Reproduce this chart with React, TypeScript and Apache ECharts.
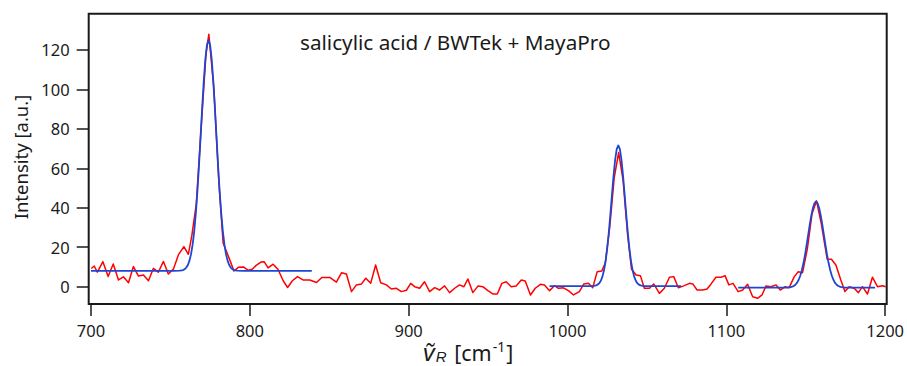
import React, { useEffect, useRef } from "react";
import * as echarts from "echarts";

// measured spectrum (red) as [wavenumber, intensity]
const measured: [number, number][] = [
  [700.2, 9.2], [702, 10.5], [704, 7.4], [707.5, 12.7], [710.8, 5.2], [714, 11.5], [717.3, 3.4], [720.4, 5.0],
  [723.6, 2.0], [726.7, 10.2], [729.9, 5.4], [733, 5.9], [736.2, 3.0], [739.3, 9.3], [742.4, 7.3], [745.6, 12.8],
  [748.7, 6.4], [751.9, 8.9], [755, 16.1], [758.5, 20.3], [761.3, 16.4], [763.5, 26], [766.3, 42], [769.3, 80],
  [772.4, 118], [774.2, 128], [777.4, 100], [780.5, 53], [783.2, 22], [785.7, 17], [787.8, 12.7], [790, 8.0],
  [793, 9.9], [796, 10], [799, 8.3], [801.5, 8.8], [804, 10.8], [807, 12.5], [809, 12.7], [811.5, 9.5],
  [814.7, 11.4], [817.8, 8.7], [821, 3], [823.8, -0.4], [826.8, 3], [830, 5.1], [833.5, 3.4], [837.7, 3.4],
  [842, 2.1], [845.3, 4.7], [850.3, 4.7], [854.5, 2.3], [857.8, 7.1], [860.8, 6.4], [864, -2.5], [867.1, 0.9],
  [870.3, 1.4], [873, 4.3], [876.1, 1.7], [879.2, 11], [882.4, 2.0], [886, 0.9], [889.1, -1.2], [892.3, -0.8],
  [895.4, -2.5], [898.6, -1.8], [901.3, 1.7], [903.8, 0], [906.9, -0.8], [910, 2.5], [913.2, -2.5], [916.4, -0.5],
  [919.5, -1.7], [922.6, 0.4], [925.8, -3.0], [929, -0.8], [932, 0.9], [934.8, 0], [937.3, 3.9], [940.4, -3.0],
  [943.6, 0.3], [946.7, 0], [949.9, -2.0], [953, -3.7], [955.8, -3.7], [958.7, 1.7], [961.4, 2.5], [964.6, 0],
  [967.7, 0.3], [970.9, 3.4], [973.4, 2.9], [976.7, -4.2], [979.7, -0.8], [983, 1.2], [985.5, 0.9], [988.7, -2.0],
  [991.8, 0.5], [994.3, -0.8], [997.5, -0.6], [1000.8, -2.1], [1003.8, -4.2], [1007.5, -2.5], [1010.3, 1.4],
  [1013.2, 1.7], [1015.9, -0.5], [1018.7, 7.6], [1021.6, 8], [1023.8, 12], [1026.6, 30], [1029.4, 55],
  [1032.2, 68], [1035, 54], [1037.9, 26], [1040.3, 9], [1043.2, 5.9], [1045.9, 5.6], [1048.4, -0.8],
  [1051.6, -0.8], [1054.3, 1.4], [1057.9, -3.4], [1061, -0.8], [1064.2, 4.8], [1066.9, 5.1], [1069.8, -0.5],
  [1073.2, 0.4], [1076.8, 1.7], [1078.9, 1.4], [1081.6, -1.7], [1085.1, -1.7], [1087.9, -1.2], [1090.4, 1.4],
  [1093.5, 4.8], [1096.7, 4.8], [1099.2, 5.6], [1101.6, 0.9], [1104.2, 1.7], [1107.5, -2.5], [1110.3, -1.7],
  [1113.4, 1.2], [1116.6, -5.1], [1119.7, -5.9], [1122.5, -4.2], [1125, 0.4], [1128.1, 0], [1131.3, 0.9],
  [1134, -1.7], [1137, 0], [1139.6, -0.5], [1142.8, 5.1], [1145.3, 7.6], [1148, 7.1], [1151, 19], [1154, 37],
  [1156.8, 43.5], [1159.8, 32], [1163.5, 14], [1166.2, 13.9], [1169, 11], [1172.1, 3.4], [1174.7, -2.5],
  [1177.4, 0], [1180.5, -0.8], [1183.2, -3.0], [1185.7, 0], [1188.9, -3.7], [1192, 4.8], [1195.2, 0],
  [1198.3, 0.5], [1200.4, 0],
];

// fitted peaks (blue)
const fit1: [number, number][] = [
  [700, 8], [752, 8], [756, 8.1], [758, 8.45], [759, 8.9], [760, 9.7], [761, 11.0], [762, 13.2], [763, 16.5],
  [764, 21.4], [765, 28.2], [766, 37.2], [767, 48.4], [768, 61.6], [769, 76], [770, 90.7], [771, 104.3],
  [772, 115.3], [773, 122.5], [774, 125], [775, 122.5], [776, 115.3], [777, 104.3], [778, 90.7], [779, 76],
  [780, 61.6], [781, 48.4], [782, 37.2], [783, 28.2], [784, 21.4], [785, 16.5], [786, 13.2], [787, 11.0],
  [788, 9.7], [789, 8.9], [790, 8.45], [792, 8.1], [796, 8], [839, 8],
];
const fit2: [number, number][] = [
  [988.7, 0.3], [1014, 0.32], [1016, 0.35], [1018, 0.66], [1019, 1.04], [1020, 1.75], [1021, 3.0], [1022, 5.1],
  [1023, 8.3], [1024, 12.9], [1025, 19.3], [1026, 27.3], [1027, 36.6], [1028, 46.6], [1029, 56.2], [1030, 64.3],
  [1031, 69.7], [1032, 71.6], [1033, 69.7], [1034, 64.3], [1035, 56.2], [1036, 46.6], [1037, 36.6], [1038, 27.3],
  [1039, 19.3], [1040, 12.9], [1041, 8.3], [1042, 5.1], [1043, 3.0], [1044, 1.75], [1045, 1.04], [1046, 0.66],
  [1048, 0.35], [1050, 0.32], [1071.5, 0.3],
];
const fit3: [number, number][] = [
  [1107.5, -0.5], [1138.5, -0.45], [1140.5, -0.24], [1141.5, 0], [1142.5, 0.37], [1143.5, 1.0], [1144.5, 1.95],
  [1145.5, 3.4], [1146.5, 5.4], [1147.5, 8.2], [1148.5, 11.6], [1149.5, 15.9], [1150.5, 20.8], [1151.5, 26.0],
  [1152.5, 31.2], [1153.5, 36.0], [1154.5, 39.8], [1155.5, 42.3], [1156.5, 43.2], [1157.5, 42.3], [1158.5, 39.8],
  [1159.5, 36.0], [1160.5, 31.2], [1161.5, 26.0], [1162.5, 20.8], [1163.5, 15.9], [1164.5, 11.6], [1165.5, 8.2],
  [1166.5, 5.4], [1167.5, 3.4], [1168.5, 1.95], [1169.5, 1.0], [1170.5, 0.37], [1171.5, 0], [1172.5, -0.24],
  [1174.5, -0.45], [1193.7, -0.5],
];

const xTicks = [700, 800, 900, 1000, 1100, 1200];
const yTicks = [0, 20, 40, 60, 80, 100, 120];

const titleText = "salicylic acid / BWTek + MayaPro";
const yName = "Intensity [a.u.]";

const FONT = "'Noto Sans', 'DejaVu Sans', sans-serif";
const ITALIC_FONT = "'Liberation Sans', 'Noto Sans', sans-serif";
const INK = "#1a1a1a";

export default function App() {
  const ref = useRef<HTMLDivElement>(null);
  useEffect(() => {
    if (!ref.current) return;
    const chart = echarts.init(ref.current, undefined, { renderer: "svg" });
    const lineSeries = (data: [number, number][], color: string, width: number, z: number) => ({
      type: "line",
      data,
      showSymbol: false,
      symbol: "none",
      smooth: false,
      z,
      lineStyle: { color, width, join: "round" },
    });
    const tickStyle = { color: INK, width: 1.5 };
    chart.setOption({
      animation: false,
      backgroundColor: "#ffffff",
      grid: {
        left: 88.7,
        top: 13.7,
        width: 799.6,
        height: 290.3,
        show: true,
        borderColor: INK,
        borderWidth: 2,
        backgroundColor: "transparent",
      },
      xAxis: {
        type: "value",
        min: 698.55,
        max: 1201,
        axisLine: { show: false, onZero: false },
        splitLine: { show: false },
        axisTick: { show: true, inside: false, length: 12, customValues: xTicks, lineStyle: tickStyle },
        axisLabel: {
          customValues: xTicks,
          formatter: (v: number) => String(v),
          margin: 18,
          color: INK,
          fontFamily: FONT,
          fontSize: 16.5,
        },
      },
      yAxis: {
        type: "value",
        min: -8.78,
        max: 138.4,
        axisLine: { show: false, onZero: false },
        splitLine: { show: false },
        axisTick: { show: true, inside: false, length: 12, customValues: yTicks, lineStyle: tickStyle },
        axisLabel: {
          customValues: yTicks,
          formatter: (v: number) => String(v),
          margin: 19,
          color: INK,
          fontFamily: FONT,
          fontSize: 16.5,
        },
      },
      graphic: [
        {
          type: "text",
          left: 300,
          top: 31,
          style: { text: titleText, fill: INK, font: `20.7px ${FONT}` },
        },
        {
          type: "text",
          x: 20,
          y: 157,
          rotation: Math.PI / 2,
          style: {
            text: yName,
            fill: INK,
            font: `18.5px ${FONT}`,
            align: "center",
            verticalAlign: "middle",
          },
        },
        {
          type: "text",
          x: 467,
          y: 352,
          style: {
            text: "{nu|ṽ}{sub|R}{n| [cm}{sup|-1}{n|]}",
            fill: INK,
            align: "center",
            verticalAlign: "middle",
            rich: {
              nu: { fontFamily: ITALIC_FONT, fontSize: 24, fontStyle: "italic", lineHeight: 30, padding: [2, 1, 2, 2], fill: INK },
              sub: { fontFamily: ITALIC_FONT, fontSize: 15, fontStyle: "italic", lineHeight: 18, padding: [0, 2, 3, 0], verticalAlign: "bottom", fill: INK },
              n: { fontFamily: FONT, fontSize: 21.5, lineHeight: 30, fill: INK },
              sup: { fontFamily: FONT, fontSize: 14, lineHeight: 16, padding: [2, 1, 0, 1], verticalAlign: "top", fill: INK },
            },
          },
        },
      ],
      series: [
        lineSeries(measured, "#ff0000", 1.5, 2),
        lineSeries(fit1, "#1f45d4", 1.8, 3),
        lineSeries(fit2, "#1f45d4", 1.8, 3),
        lineSeries(fit3, "#1f45d4", 1.8, 3),
      ],
    });
    return () => chart.dispose();
  }, []);
  return (
    <div
      ref={ref}
      style={{ position: "absolute", left: 0, top: 0, width: 907, height: 366, background: "#fff" }}
    />
  );
}
